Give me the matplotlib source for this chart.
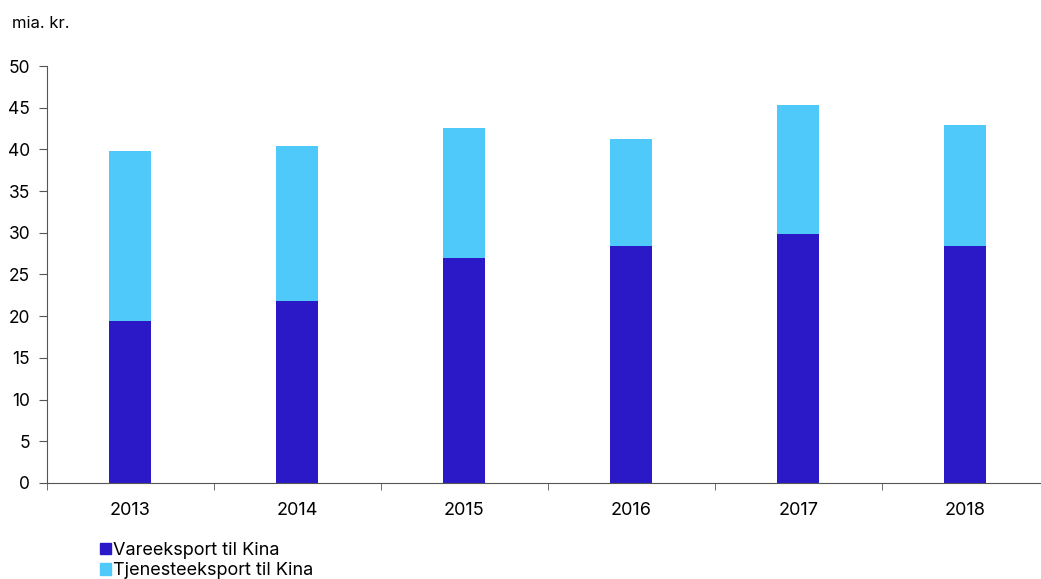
import numpy as np
import matplotlib
matplotlib.use("Agg")
import matplotlib.pyplot as plt
from matplotlib.patches import Patch

plt.rcParams['font.family'] = ['Inter', 'DejaVu Sans']

years = ["2013", "2014", "2015", "2016", "2017", "2018"]
vareeksport = [19.4, 21.8, 27.0, 28.4, 29.9, 28.4]
tjenesteeksport = [20.4, 18.6, 15.6, 12.8, 15.4, 14.5]

dark = "#2b19c8"
light = "#4fc9fa"

fig = plt.figure(figsize=(10.41, 5.79), dpi=100)
ax = fig.add_axes([0.045, 0.166, 0.9625, 0.720])

x = np.arange(len(years))
ax.bar(x, vareeksport, width=0.25, color=dark)
ax.bar(x, tjenesteeksport, width=0.25, bottom=vareeksport, color=light)

ax.set_xlim(-0.5, len(years) - 0.5)
ax.set_ylim(0, 50)
ax.set_yticks(np.arange(0, 51, 5))
ax.tick_params(axis='y', direction='out', length=6, labelsize=12.5, pad=6, colors='#555555', labelcolor='black')
ax.set_xticks(x)
ax.set_xticklabels(years)
ax.set_xticks(np.arange(-0.5, len(years), 1), minor=True)
ax.tick_params(axis='x', which='major', length=0, labelsize=13, pad=14)
ax.tick_params(axis='x', which='minor', direction='out', length=5, colors='#555555')

for s in ['top', 'right']:
    ax.spines[s].set_visible(False)
for s in ['left', 'bottom']:
    ax.spines[s].set_color('#555555')

fig.text(0.012, 0.960, "mia. kr.", fontsize=12, ha='left', va='center')

handles = [Patch(color=dark, label="Vareeksport til Kina"),
           Patch(color=light, label="Tjenesteeksport til Kina")]
fig.legend(handles=handles, loc='lower left', bbox_to_anchor=(0.089, -0.013),
           frameon=False, fontsize=13, handlelength=0.6, handleheight=0.6,
           handletextpad=0.15, labelspacing=0.2, borderaxespad=0)

fig.savefig("out.png", dpi=100)
